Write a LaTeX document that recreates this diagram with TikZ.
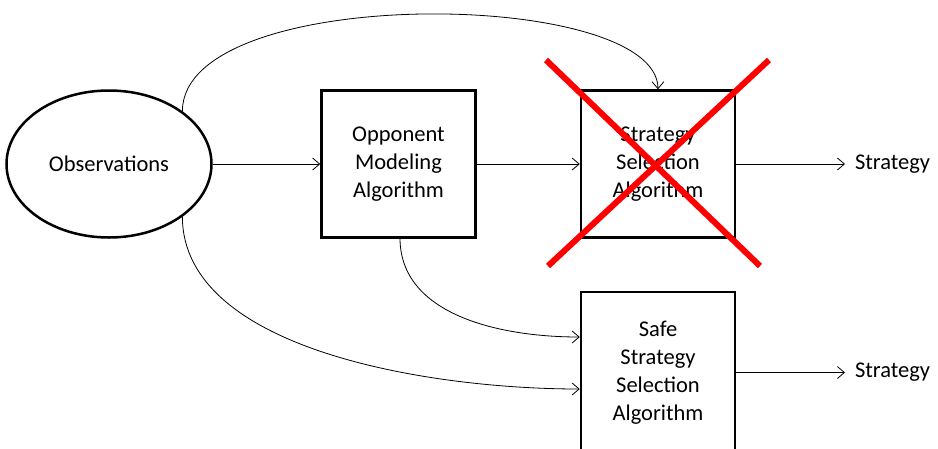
\documentclass[tikz,border=0pt]{standalone}
\usepackage{fontspec}
\setmainfont{Carlito}
\usetikzlibrary{arrows.meta,shapes.geometric}
\begin{document}
\begin{tikzpicture}[x=1pt,y=-1pt,
  every node/.style={font=\fontsize{22.5}{28}\selectfont},
  blk/.style={draw,line width=2.5pt,minimum width=154pt,minimum height=147pt,align=center,inner sep=0pt},
  conn/.style={line width=0.8pt,-{Straight Barb[length=7pt,width=12pt]}},
  cross/.style={red,line width=6pt},
  outtxt/.style={anchor=west,inner sep=0pt,outer xsep=10pt}]
\useasboundingbox (0,0) rectangle (938,448);
\node[draw,ellipse,line width=2.5pt,minimum width=205pt,minimum height=147pt,inner sep=0pt] (obs) at (109,164) {Observations};
\node[blk] (opp) at (398.5,164) {Opponent\\Modeling\\Algorithm};
\node[blk] (ssa) at (658,164) {Strategy\\Selection\\Algorithm};
\node[blk,minimum height=161pt] (safe) at (658,372.5) {Safe\\Strategy\\Selection\\Algorithm};
\node[outtxt] (s1) at (845,164) {Strategy};
\node[outtxt] (s2) at (845,372.5) {Strategy};
\draw[conn] (obs.east) -- (opp.west);
\draw[conn] (opp.east) -- (ssa.west);
\draw[conn] (ssa.east) -- (s1.west);
\draw[conn] (safe.east) -- (s2.west);
\draw[conn] (obs.north east) .. controls (183,-17) and (657,-12) .. (ssa.north);
\coordinate (b1) at (400,238);
\draw[conn] (b1) .. controls (400,315) and (500,337) .. (safe.west |- 0,337);
\draw[conn] (obs.south east) .. controls (183,350) and (430,389) .. (safe.west |- 0,389);
\coordinate (x1) at (546,60);
\coordinate (x2) at (760,266);
\coordinate (x3) at (769,60);
\coordinate (x4) at (548,266);
\draw[cross] (x1) -- (x2);
\draw[cross] (x3) -- (x4);
\end{tikzpicture}
\end{document}
